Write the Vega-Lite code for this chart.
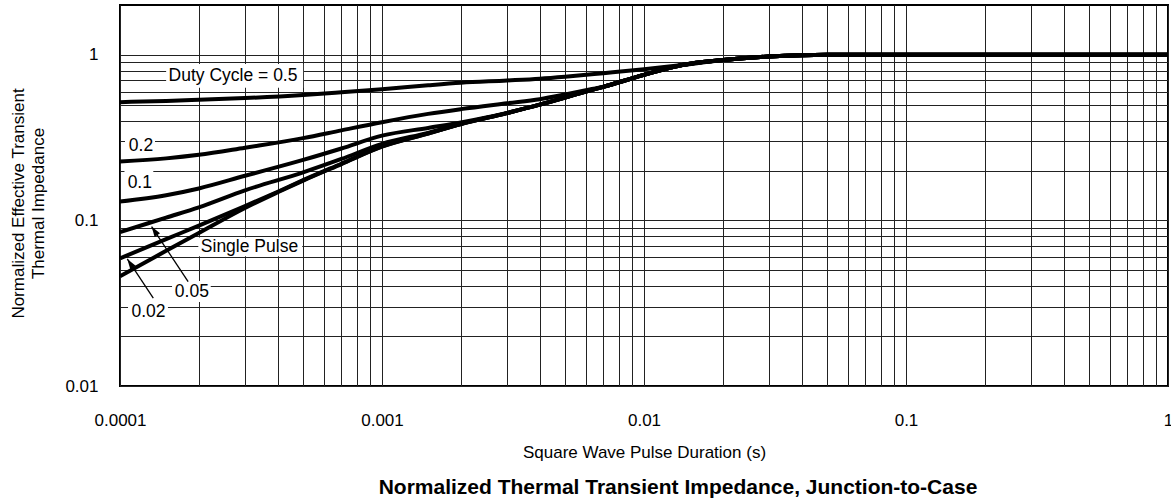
{
  "$schema": "https://vega.github.io/schema/vega-lite/v6.json",
  "width": 1048,
  "height": 381,
  "autosize": {"type": "none"},
  "padding": {"left": 120, "top": 5, "right": 3, "bottom": 115},
  "background": "white",
  "title": {
    "text": "Normalized Thermal Transient Impedance, Junction-to-Case",
    "orient": "bottom",
    "anchor": "middle",
    "fontSize": 21,
    "fontWeight": "bold",
    "font": "Liberation Sans",
    "color": "black",
    "offset": 17,
    "dx": 34
  },
  "config": {
    "font": "Liberation Sans",
    "view": {"stroke": "black", "strokeWidth": 2},
    "axis": {
      "labelColor": "black",
      "titleColor": "black",
      "labelFontSize": 17,
      "titleFontSize": 17,
      "titleFontWeight": "normal",
      "grid": true,
      "gridColor": "#222222",
      "gridWidth": 1,
      "gridOpacity": 1,
      "ticks": false,
      "tickSize": 0,
      "domain": false,
      "labelOverlap": false,
      "labelFlush": false,
      "labelBound": false
    }
  },
  "datasets": {
    "curves": [
      {"s": "0.5", "x": 0.0001, "y": 0.518},
      {"s": "0.5", "x": 0.00015, "y": 0.527},
      {"s": "0.5", "x": 0.0002, "y": 0.535},
      {"s": "0.5", "x": 0.0003, "y": 0.548},
      {"s": "0.5", "x": 0.0005, "y": 0.572},
      {"s": "0.5", "x": 0.0007, "y": 0.594},
      {"s": "0.5", "x": 0.001, "y": 0.62},
      {"s": "0.5", "x": 0.0015, "y": 0.655},
      {"s": "0.5", "x": 0.002, "y": 0.678},
      {"s": "0.5", "x": 0.003, "y": 0.7},
      {"s": "0.5", "x": 0.004, "y": 0.718},
      {"s": "0.5", "x": 0.005, "y": 0.738},
      {"s": "0.5", "x": 0.007, "y": 0.775},
      {"s": "0.5", "x": 0.01, "y": 0.818},
      {"s": "0.5", "x": 0.014, "y": 0.868},
      {"s": "0.5", "x": 0.02, "y": 0.93},
      {"s": "0.5", "x": 0.03, "y": 0.977},
      {"s": "0.5", "x": 0.04, "y": 0.995},
      {"s": "0.5", "x": 0.05, "y": 1.0},
      {"s": "0.5", "x": 1, "y": 1.0},

      {"s": "0.2", "x": 0.0001, "y": 0.227},
      {"s": "0.2", "x": 0.00015, "y": 0.237},
      {"s": "0.2", "x": 0.0002, "y": 0.249},
      {"s": "0.2", "x": 0.0003, "y": 0.275},
      {"s": "0.2", "x": 0.0005, "y": 0.314},
      {"s": "0.2", "x": 0.0007, "y": 0.35},
      {"s": "0.2", "x": 0.001, "y": 0.392},
      {"s": "0.2", "x": 0.0015, "y": 0.44},
      {"s": "0.2", "x": 0.002, "y": 0.47},
      {"s": "0.2", "x": 0.003, "y": 0.51},
      {"s": "0.2", "x": 0.004, "y": 0.54},
      {"s": "0.2", "x": 0.005, "y": 0.577},
      {"s": "0.2", "x": 0.006, "y": 0.612},
      {"s": "0.2", "x": 0.007, "y": 0.643},
      {"s": "0.2", "x": 0.01, "y": 0.757},
      {"s": "0.2", "x": 0.014, "y": 0.868},
      {"s": "0.2", "x": 0.02, "y": 0.93},
      {"s": "0.2", "x": 0.03, "y": 0.977},
      {"s": "0.2", "x": 0.04, "y": 0.995},
      {"s": "0.2", "x": 0.05, "y": 1.0},
      {"s": "0.2", "x": 1, "y": 1.0},

      {"s": "0.1", "x": 0.0001, "y": 0.13},
      {"s": "0.1", "x": 0.00015, "y": 0.142},
      {"s": "0.1", "x": 0.0002, "y": 0.156},
      {"s": "0.1", "x": 0.0003, "y": 0.186},
      {"s": "0.1", "x": 0.0005, "y": 0.232},
      {"s": "0.1", "x": 0.0007, "y": 0.272},
      {"s": "0.1", "x": 0.001, "y": 0.325},
      {"s": "0.1", "x": 0.0015, "y": 0.362},
      {"s": "0.1", "x": 0.002, "y": 0.39},
      {"s": "0.1", "x": 0.0025, "y": 0.418},
      {"s": "0.1", "x": 0.003, "y": 0.446},
      {"s": "0.1", "x": 0.004, "y": 0.5},
      {"s": "0.1", "x": 0.005, "y": 0.552},
      {"s": "0.1", "x": 0.006, "y": 0.6},
      {"s": "0.1", "x": 0.007, "y": 0.641},
      {"s": "0.1", "x": 0.01, "y": 0.757},
      {"s": "0.1", "x": 0.014, "y": 0.868},
      {"s": "0.1", "x": 0.02, "y": 0.93},
      {"s": "0.1", "x": 0.03, "y": 0.977},
      {"s": "0.1", "x": 0.04, "y": 0.995},
      {"s": "0.1", "x": 0.05, "y": 1.0},
      {"s": "0.1", "x": 1, "y": 1.0},

      {"s": "0.05", "x": 0.0001, "y": 0.085},
      {"s": "0.05", "x": 0.00015, "y": 0.104},
      {"s": "0.05", "x": 0.0002, "y": 0.12},
      {"s": "0.05", "x": 0.0003, "y": 0.152},
      {"s": "0.05", "x": 0.0005, "y": 0.195},
      {"s": "0.05", "x": 0.0007, "y": 0.235},
      {"s": "0.05", "x": 0.001, "y": 0.29},
      {"s": "0.05", "x": 0.0015, "y": 0.338},
      {"s": "0.05", "x": 0.002, "y": 0.382},
      {"s": "0.05", "x": 0.003, "y": 0.445},
      {"s": "0.05", "x": 0.004, "y": 0.5},
      {"s": "0.05", "x": 0.005, "y": 0.552},
      {"s": "0.05", "x": 0.006, "y": 0.6},
      {"s": "0.05", "x": 0.007, "y": 0.641},
      {"s": "0.05", "x": 0.01, "y": 0.757},
      {"s": "0.05", "x": 0.014, "y": 0.868},
      {"s": "0.05", "x": 0.02, "y": 0.93},
      {"s": "0.05", "x": 0.03, "y": 0.977},
      {"s": "0.05", "x": 0.04, "y": 0.995},
      {"s": "0.05", "x": 0.05, "y": 1.0},
      {"s": "0.05", "x": 1, "y": 1.0},

      {"s": "0.02", "x": 0.0001, "y": 0.059},
      {"s": "0.02", "x": 0.00015, "y": 0.0771},
      {"s": "0.02", "x": 0.0002, "y": 0.093},
      {"s": "0.02", "x": 0.0003, "y": 0.122},
      {"s": "0.02", "x": 0.0004, "y": 0.149},
      {"s": "0.02", "x": 0.0005, "y": 0.175},
      {"s": "0.02", "x": 0.0007, "y": 0.22},
      {"s": "0.02", "x": 0.001, "y": 0.28},
      {"s": "0.02", "x": 0.0015, "y": 0.335},
      {"s": "0.02", "x": 0.002, "y": 0.382},
      {"s": "0.02", "x": 0.003, "y": 0.445},
      {"s": "0.02", "x": 0.004, "y": 0.5},
      {"s": "0.02", "x": 0.005, "y": 0.552},
      {"s": "0.02", "x": 0.006, "y": 0.6},
      {"s": "0.02", "x": 0.007, "y": 0.641},
      {"s": "0.02", "x": 0.01, "y": 0.757},
      {"s": "0.02", "x": 0.014, "y": 0.868},
      {"s": "0.02", "x": 0.02, "y": 0.93},
      {"s": "0.02", "x": 0.03, "y": 0.977},
      {"s": "0.02", "x": 0.04, "y": 0.995},
      {"s": "0.02", "x": 0.05, "y": 1.0},
      {"s": "0.02", "x": 1, "y": 1.0},

      {"s": "single", "x": 0.0001, "y": 0.046},
      {"s": "single", "x": 0.00015, "y": 0.0655},
      {"s": "single", "x": 0.0002, "y": 0.084},
      {"s": "single", "x": 0.0003, "y": 0.119},
      {"s": "single", "x": 0.0004, "y": 0.148},
      {"s": "single", "x": 0.0005, "y": 0.174},
      {"s": "single", "x": 0.0007, "y": 0.219},
      {"s": "single", "x": 0.001, "y": 0.279},
      {"s": "single", "x": 0.0015, "y": 0.335},
      {"s": "single", "x": 0.002, "y": 0.382},
      {"s": "single", "x": 0.003, "y": 0.445},
      {"s": "single", "x": 0.004, "y": 0.5},
      {"s": "single", "x": 0.005, "y": 0.552},
      {"s": "single", "x": 0.006, "y": 0.6},
      {"s": "single", "x": 0.007, "y": 0.641},
      {"s": "single", "x": 0.01, "y": 0.757},
      {"s": "single", "x": 0.014, "y": 0.868},
      {"s": "single", "x": 0.02, "y": 0.93},
      {"s": "single", "x": 0.03, "y": 0.977},
      {"s": "single", "x": 0.04, "y": 0.995},
      {"s": "single", "x": 0.05, "y": 1.0},
      {"s": "single", "x": 1, "y": 1.0}
    ],
    "boxes": [
      {"x": 0.00015, "x2": 0.0005, "y": 0.632, "y2": 0.88},
      {"x": 0.0001045, "x2": 0.000136, "y": 0.245, "y2": 0.324},
      {"x": 0.000104, "x2": 0.000134, "y": 0.1406, "y2": 0.2075},
      {"x": 0.000199, "x2": 0.000496, "y": 0.0608, "y2": 0.0788},
      {"x": 0.000158, "x2": 0.000222, "y": 0.0322, "y2": 0.0431},
      {"x": 0.0001073, "x2": 0.0001524, "y": 0.0237, "y2": 0.0331}
    ],
    "labels": [
      {"label": "Duty Cycle = 0.5", "x": 0.00027, "y": 0.746},
      {"label": "0.2", "x": 0.0001203, "y": 0.282},
      {"label": "0.1", "x": 0.000119, "y": 0.168},
      {"label": "Single Pulse", "x": 0.000312, "y": 0.0695},
      {"label": "0.05", "x": 0.000188, "y": 0.0372},
      {"label": "0.02", "x": 0.0001285, "y": 0.0278}
    ],
    "arrows": [
      {"x": 0.000182, "y": 0.0427, "x2": 0.000132, "y2": 0.0918},
      {"x": 0.000134, "y": 0.0339, "x2": 0.0001066, "y2": 0.0585}
    ],
    "heads": [
      {"x": 0.000132, "y": 0.0918},
      {"x": 0.0001066, "y": 0.0585}
    ]
  },
  "encoding": {
    "x": {
      "field": "x",
      "type": "quantitative",
      "title": "Square Wave Pulse Duration (s)",
      "scale": {"type": "log", "domain": [0.0001, 1], "nice": false},
      "axis": {
        "values": [0.0001, 0.0002, 0.0003, 0.0004, 0.0005, 0.0006, 0.0007, 0.0008, 0.0009,
                   0.001, 0.002, 0.003, 0.004, 0.005, 0.006, 0.007, 0.008, 0.009,
                   0.01, 0.02, 0.03, 0.04, 0.05, 0.06, 0.07, 0.08, 0.09,
                   0.1, 0.2, 0.3, 0.4, 0.5, 0.6, 0.7, 0.8, 0.9, 1],
        "labelExpr": "abs(log(datum.value)/LN10 - round(log(datum.value)/LN10)) < 0.001 ? format(datum.value, '~g') : ''",
        "labelPadding": 39,
        "labelBaseline": "alphabetic",
        "titleBaseline": "alphabetic",
        "titleY": 71
      }
    },
    "y": {
      "field": "y",
      "type": "quantitative",
      "title": ["Normalized Effective Transient", "Thermal Impedance"],
      "scale": {"type": "log", "domain": [0.01, 2], "nice": false},
      "axis": {
        "values": [0.01, 0.02, 0.03, 0.04, 0.05, 0.06, 0.07, 0.08, 0.09,
                   0.1, 0.2, 0.3, 0.4, 0.5, 0.6, 0.7, 0.8, 0.9, 1],
        "labelExpr": "abs(log(datum.value)/LN10 - round(log(datum.value)/LN10)) < 0.001 ? format(datum.value, '~g') : ''",
        "labelPadding": 22,
        "titleAngle": -90,
        "titleX": -110,
        "titleY": 198,
        "titleBaseline": "top",
        "titleAlign": "center",
        "titleLineHeight": 20
      }
    }
  },
  "layer": [
    {
      "data": {"name": "boxes"},
      "mark": {"type": "rect", "fill": "white", "stroke": null},
      "encoding": {
        "x2": {"field": "x2"},
        "y2": {"field": "y2"}
      }
    },
    {
      "data": {"name": "curves"},
      "mark": {"type": "line", "color": "black", "strokeWidth": 4, "interpolate": "monotone", "strokeJoin": "round", "strokeCap": "butt", "clip": true},
      "encoding": {
        "detail": {"field": "s", "type": "nominal"}
      }
    },
    {
      "data": {"name": "arrows"},
      "mark": {"type": "rule", "color": "black", "strokeWidth": 1.3},
      "encoding": {
        "x2": {"field": "x2"},
        "y2": {"field": "y2"}
      }
    },
    {
      "data": {"name": "heads"},
      "mark": {"type": "point", "shape": "M0,0L0.32,1L-0.32,1Z", "size": 420, "filled": true, "color": "black", "opacity": 1, "angle": 326, "strokeWidth": 0}
    },
    {
      "data": {"name": "labels"},
      "mark": {"type": "text", "font": "Liberation Sans", "fontSize": 17.5, "color": "black", "align": "center", "baseline": "middle"},
      "encoding": {
        "text": {"field": "label", "type": "nominal"}
      }
    }
  ]
}
